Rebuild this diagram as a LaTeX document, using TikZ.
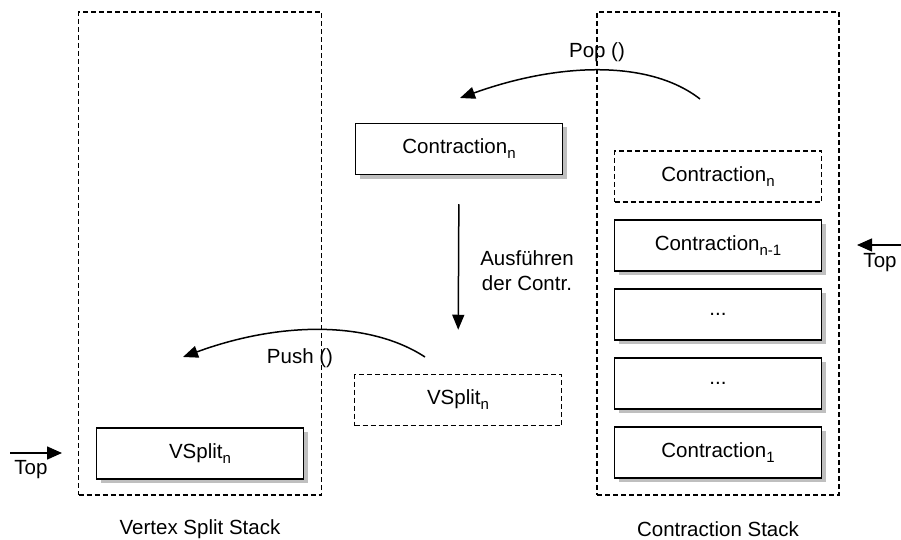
\documentclass[tikz,border=0pt]{standalone}
\usepackage{fontspec}
\setmainfont{Liberation Sans}
\usetikzlibrary{arrows.meta,shadows}
% lowered index as used in the box labels
\newcommand\lowsub[1]{\raisebox{-0.45ex}{\fontsize{15}{15}\selectfont #1}}

\begin{document}
\begin{tikzpicture}[x=1pt,y=-1pt,
  every node/.style={font=\fontsize{20.5}{25}\selectfont},
  stackframe/.style={draw, line width=1.5pt, dash pattern=on 5pt off 3pt, inner sep=0pt},
  itembox/.style={draw, fill=white, line width=1.5pt, minimum width=207pt,
    minimum height=51pt, inner sep=0pt,
    drop shadow={shadow xshift=4pt, shadow yshift=-4pt, fill=black!25, opacity=1}},
  ghostbox/.style={draw, line width=1.5pt, dash pattern=on 5pt off 3pt,
    minimum width=207pt, minimum height=51pt, inner sep=0pt},
  flow/.style={line width=1.5pt, -{Triangle[length=15pt, width=12pt]}},
  label/.style={inner sep=0pt}
]
\useasboundingbox (0,0) rectangle (901,540);

% the two stacks
\node[stackframe, minimum width=243pt, minimum height=483pt] (vsframe) at (200,253.5) {};
\node[stackframe, minimum width=242pt, minimum height=483pt] (ctframe) at (718,253.5) {};
\node[label] (vslabel) at (200,529) {Vertex Split Stack};
\node[label] (ctlabel) at (718,529) {Contraction Stack};

% contraction stack contents
\node[ghostbox] (c0) at (718,176.5) {Contraction\lowsub{n}};
\node[itembox]  (c1) at (718,245.5) {Contraction\lowsub{n-1}};
\node[itembox]  (c2) at (718,314.5) {...};
\node[itembox]  (c3) at (718,383.5) {...};
\node[itembox]  (c4) at (718,452.5) {Contraction\lowsub{1}};

% vertex split stack contents
\node[itembox] (v1) at (200,453.5) {VSplit\lowsub{n}};

% working items in the middle
\node[itembox]  (cn) at (459,149) {Contraction\lowsub{n}};
\node[ghostbox] (vn) at (458,400) {VSplit\lowsub{n}};

% execute contraction
\draw[flow, shorten <=29pt, shorten >=44pt] (cn.south) -- (vn.north);
\node[label, align=center] (exec) at (527,271) {Ausführen\\der Contr.};

% pop from the contraction stack
\coordinate (popS) at (700,99);
\coordinate (popE) at (460,98);
\draw[flow] (popS) .. controls (650,60) and (560,62) .. (popE);
\node[label] (poplbl) at (597,52) {Pop ()};

% push onto the vertex split stack
\coordinate (pushS) at (425,357);
\coordinate (pushE) at (183,357);
\draw[flow] (pushS) .. controls (370,321) and (281,321) .. (pushE);
\node[label] (pushlbl) at (300,358) {Push ()};

% top-of-stack markers
\coordinate (tlS) at (10,453);
\coordinate (tlE) at (62,453);
\draw[flow, -{Triangle[length=15pt, width=13pt]}] (tlS) -- (tlE);
\node[label] (tlL) at (31,470) {Top};

\coordinate (trS) at (901,245);
\coordinate (trE) at (857,245);
\draw[flow, -{Triangle[length=15pt, width=13pt]}] (trS) -- (trE);
\node[label] (trL) at (880,263) {Top};
\end{tikzpicture}
\end{document}
